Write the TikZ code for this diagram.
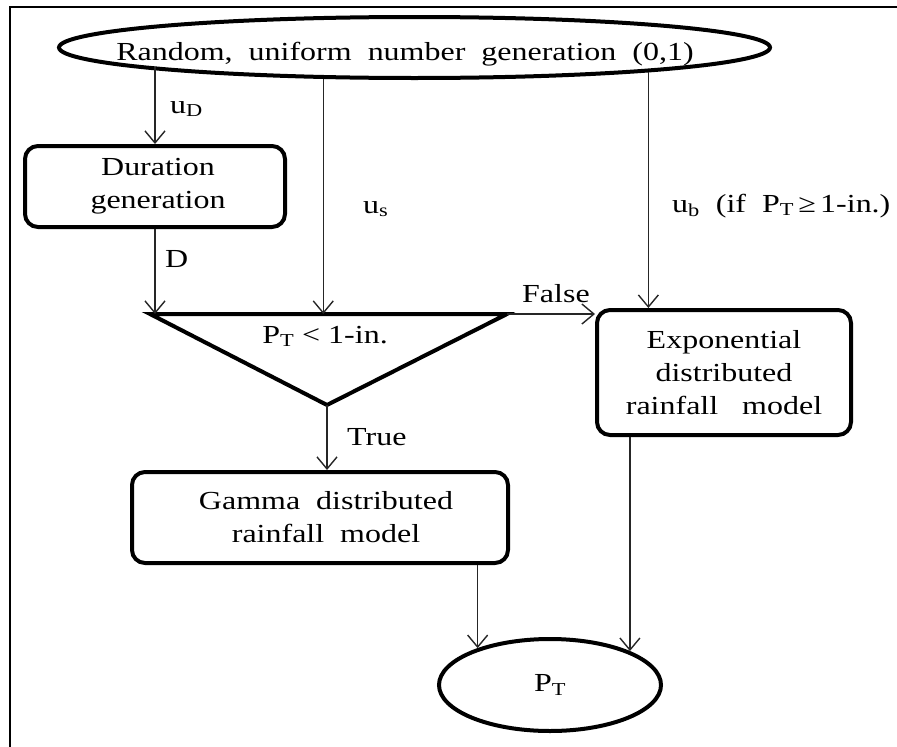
\documentclass[tikz,border=0pt]{standalone}
\usepackage{fontspec}
\setmainfont{Liberation Serif}[FakeStretch=1.23]
\usetikzlibrary{arrows.meta,shapes.geometric}

\begin{document}
\begin{tikzpicture}[x=1pt,y=-1pt,
  every node/.style={font=\fontsize{26}{33}\selectfont, inner sep=0pt},
  heavy/.style={draw=black, line width=4pt, fill=white},
  procbox/.style={heavy, rectangle, rounded corners=13pt, align=center},
  oval/.style={heavy, ellipse},
  conn/.style={draw=black!85, line width=1.4pt,
    -{Straight Barb[length=12pt,width=20pt]}},
  tag/.style={anchor=base west},
]
\useasboundingbox (0,0) rectangle (897,747);

% frame
\draw[line width=2.5pt] (10,747) -- (10,7) -- (897,7);

% random number source
\node[oval, minimum width=711pt, minimum height=61pt] (rng) at (414.5,47.5) {};
\node[anchor=base] (rngtext) at (405,60)
  {Random,\ \ uniform\ \ number\ \ generation\ \ (0,1)};

% duration
\node[procbox, minimum width=260pt, minimum height=81pt] (dur) at (155,186.5)
  {\hspace*{6pt}Duration\\\hspace*{6pt}generation};

% decision triangle
\coordinate (tl) at (150,314);
\coordinate (tr) at (507,314);
\coordinate (tb) at (327,405);
\draw[line width=4pt, line join=miter] (tl) -- (tr) -- (tb) -- cycle;
\node[anchor=base] (cond) at (325,343) {P\textsubscript{T} < 1-in.};

% models
\node[procbox, minimum width=254pt, minimum height=125pt] (exp) at (724,372.5)
  {Exponential\\distributed\\rainfall\ \ \ model};
\node[procbox, minimum width=376pt, minimum height=91pt] (gam) at (320,517.5)
  {\hspace*{12pt}Gamma\ \ distributed\\\hspace*{12pt}rainfall\ \ model};

% result
\node[oval, minimum width=222pt, minimum height=92pt] (pt) at (550,685)
  {P\textsubscript{T}};

% connectors
\draw[conn] (dur.north |- rng.184.8) -- (dur.north);
\draw[conn] (rng.199.75) -- (rng.199.75 |- tl);
\draw[conn] (rng.354.62) -- (rng.354.62 |- exp.north);
\draw[conn] (dur.south) -- (dur.south |- tl);
\draw[conn] (tr) -- (exp.west |- tr);
\draw[conn] (tb) -- (tb |- gam.north);
\draw[conn] (pt.153.35 |- gam.south) -- (pt.153.35);
\draw[conn] (pt.23.48 |- exp.south) -- (pt.23.48);

% connector labels
\node[tag] (lud) at (170,113) {u\textsubscript{D}};
\node[tag] (lus) at (363,213) {u\textsubscript{s}};
\node[tag] (ld) at (165,267) {D};
\node[tag] (lub) at (672,212) {u\textsubscript{b}\ \ (if\ \ P\textsubscript{T}\,≥\,1-in.)};
\node[tag] (lfalse) at (522,302) {False};
\node[tag] (ltrue) at (347,445) {True};
\end{tikzpicture}
\end{document}
